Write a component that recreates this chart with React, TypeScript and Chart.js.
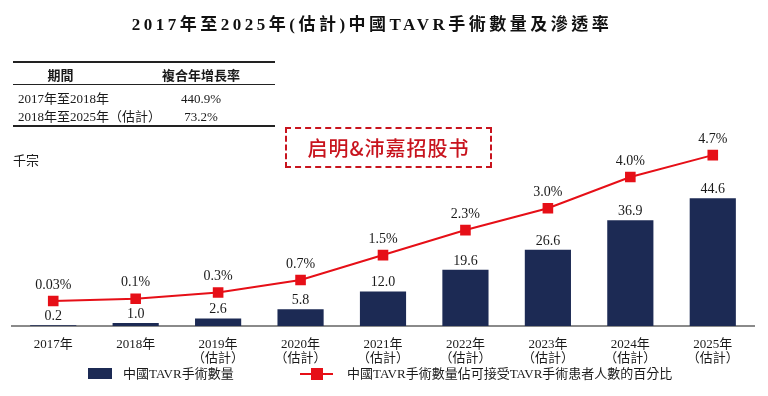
import React, { useEffect, useRef } from "react";
import { Chart, registerables } from "chart.js";

Chart.register(...registerables);

const categories: string[][] = [
  ["2017年"],
  ["2018年"],
  ["2019年", "（估計）"],
  ["2020年", "（估計）"],
  ["2021年", "（估計）"],
  ["2022年", "（估計）"],
  ["2023年", "（估計）"],
  ["2024年", "（估計）"],
  ["2025年", "（估計）"],
];
const volumes: number[] = [0.2, 1.0, 2.6, 5.8, 12.0, 19.6, 26.6, 36.9, 44.6];
const volumeLabels: string[] = ["0.2", "1.0", "2.6", "5.8", "12.0", "19.6", "26.6", "36.9", "44.6"];
const penetration: number[] = [0.03, 0.1, 0.3, 0.7, 1.5, 2.3, 3.0, 4.0, 4.7];
const penetrationLabels: string[] = ["0.03%", "0.1%", "0.3%", "0.7%", "1.5%", "2.3%", "3.0%", "4.0%", "4.7%"];

const tablePeriods: string[] = ["2017年至2018年", "2018年至2025年（估計）"];
const tableCagr: string[] = ["440.9%", "73.2%"];

const NAVY = "#1c2a54";
const RED = "#e60f17";
const FONT = '"Liberation Serif", "Noto Sans CJK TC", serif';

const labelPlugin = {
  id: "valueLabels",
  afterDatasetsDraw(chart: any) {
    const ctx = chart.ctx;
    ctx.save();
    ctx.font = `14px ${FONT}`;
    ctx.fillStyle = "#1a1a1a";
    ctx.textAlign = "center";
    ctx.textBaseline = "middle";
    const barMeta = chart.getDatasetMeta(1);
    barMeta.data.forEach((el: any, i: number) => {
      ctx.fillText(volumeLabels[i], el.x, el.y - 9);
    });
    const lineMeta = chart.getDatasetMeta(0);
    lineMeta.data.forEach((el: any, i: number) => {
      ctx.fillText(penetrationLabels[i], el.x, el.y - 16);
    });
    ctx.restore();
  },
};

export default function App() {
  const ref = useRef<HTMLCanvasElement | null>(null);

  useEffect(() => {
    if (!ref.current) return;
    const chart = new Chart(ref.current, {
      type: "bar",
      data: {
        labels: categories as any,
        datasets: [
          {
            type: "line",
            label: "中國TAVR手術數量佔可接受TAVR手術患者人數的百分比",
            data: penetration,
            yAxisID: "y1",
            borderColor: RED,
            backgroundColor: RED,
            borderWidth: 2,
            pointStyle: "rect",
            pointRadius: 7.5,
            pointBackgroundColor: RED,
            pointBorderWidth: 0,
            tension: 0,
            order: 0,
          } as any,
          {
            type: "bar",
            label: "中國TAVR手術數量",
            data: volumes,
            yAxisID: "y",
            backgroundColor: NAVY,
            barPercentage: 0.56,
            categoryPercentage: 1,
            order: 1,
          },
        ],
      },
      options: {
        responsive: false,
        animation: false,
        layout: { padding: { left: 12, right: 14, top: 140, bottom: 26 } },
        plugins: {
          legend: { display: false },
          tooltip: { enabled: false },
          title: { display: false },
        },
        scales: {
          x: {
            grid: { display: false },
            border: { display: true, color: "#8a8a8a", width: 2 },
            ticks: {
              color: "#1a1a1a",
              font: { family: FONT, size: 13, lineHeight: 1.08 },
              padding: 4,
              maxRotation: 0,
              autoSkip: false,
            },
          },
          y: { display: false, min: 0, max: 65 },
          y1: { display: false, min: -0.768, max: 5.184 },
        },
      },
      plugins: [labelPlugin],
    });
    return () => chart.destroy();
  }, []);

  const abs = (s: React.CSSProperties): React.CSSProperties => ({ position: "absolute", ...s });
  const txt: React.CSSProperties = { fontFamily: FONT, fontSize: 13, color: "#1a1a1a", whiteSpace: "nowrap", lineHeight: "14px" };

  return (
    <div style={{ position: "absolute", left: 0, top: 0, width: 768, height: 396, background: "#fff", overflow: "hidden" }}>
      <canvas ref={ref} width={768} height={396} style={{ position: "absolute", left: 0, top: 0 }} />
      <div style={abs({ left: 0, top: 10, width: 744, textAlign: "center", fontFamily: FONT, fontWeight: "bold", fontSize: 17, letterSpacing: 3.5, color: "#111", whiteSpace: "nowrap" })}>
        2017年至2025年(估計)中國TAVR手術數量及滲透率
      </div>
      {/* table */}
      <div style={abs({ left: 13, top: 61, width: 262, height: 1.5, background: "#222" })} />
      <div style={abs({ left: 13, top: 84, width: 262, height: 1, background: "#222" })} />
      <div style={abs({ left: 13, top: 125, width: 262, height: 1.5, background: "#222" })} />
      <div style={abs({ ...txt, left: 13, top: 69, width: 95, textAlign: "center", fontWeight: "bold" })}>期間</div>
      <div style={abs({ ...txt, left: 140, top: 69, width: 122, textAlign: "center", fontWeight: "bold" })}>複合年增長率</div>
      <div style={abs({ ...txt, left: 18, top: 92 })}>{tablePeriods[0]}</div>
      <div style={abs({ ...txt, left: 18, top: 110 })}>{tablePeriods[1]}</div>
      <div style={abs({ ...txt, left: 150, top: 92, width: 102, textAlign: "center" })}>{tableCagr[0]}</div>
      <div style={abs({ ...txt, left: 150, top: 110, width: 102, textAlign: "center" })}>{tableCagr[1]}</div>
      {/* stamp */}
      <div style={abs({ left: 285, top: 127, width: 203, height: 37, border: "2px dashed #c8141e", display: "flex", alignItems: "center", justifyContent: "center", fontFamily: '"Noto Sans CJK SC", serif', fontWeight: 500, fontSize: 20, color: "#c8141e", letterSpacing: 1 })}>
        启明&amp;沛嘉招股书
      </div>
      <div style={abs({ ...txt, left: 13, top: 154 })}>千宗</div>
      {/* legend */}
      <div style={abs({ left: 88, top: 368, width: 24, height: 11, background: NAVY })} />
      <div style={abs({ ...txt, left: 123, top: 367 })}>中國TAVR手術數量</div>
      <div style={abs({ left: 300, top: 373, width: 33, height: 2, background: RED })} />
      <div style={abs({ left: 311, top: 368, width: 12, height: 12, background: RED })} />
      <div style={abs({ ...txt, left: 347, top: 367 })}>中國TAVR手術數量佔可接受TAVR手術患者人數的百分比</div>
    </div>
  );
}
